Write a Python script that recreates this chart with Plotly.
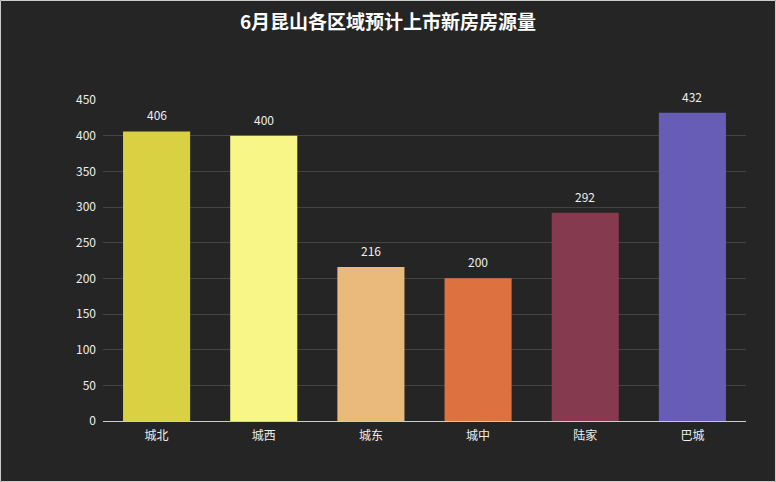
import plotly.graph_objects as go

categories = ["城北", "城西", "城东", "城中", "陆家", "巴城"]
values = [406, 400, 216, 200, 292, 432]
colors = ["#d9d141", "#f7f687", "#eab97c", "#dd7240", "#863a4f", "#675db7"]
y_ticks = [0, 50, 100, 150, 200, 250, 300, 350, 400, 450]
title_text = "6月昆山各区域预计上市新房房源量"

W, H = 776, 482
ML, MR, MT, MB = 103, 30, 100, 61
FONT = "Noto Sans CJK SC, Microsoft YaHei, sans-serif"

fig = go.Figure(go.Bar(
    x=categories, y=values,
    marker=dict(color=colors, line=dict(width=0)),
    width=0.626,
    hoverinfo="x+y",
))

for c, v in zip(categories, values):
    fig.add_annotation(x=c, y=v, text=str(v), showarrow=False,
                       yanchor="bottom", yshift=6,
                       font=dict(size=12, color="#eeeeee", family=FONT))

pw = W - ML - MR
ph = H - MT - MB
fig.add_shape(type="rect", xref="paper", yref="paper",
              x0=-(ML - 0.5) / pw, x1=1 + (MR - 0.5) / pw,
              y0=-(MB - 0.5) / ph, y1=1 + (MT - 0.5) / ph,
              line=dict(color="#cccccc", width=1), fillcolor="rgba(0,0,0,0)", layer="above")

fig.update_layout(
    width=W, height=H,
    margin=dict(l=ML, r=MR, t=MT, b=MB),
    paper_bgcolor="#252525", plot_bgcolor="#252525",
    title=dict(text="<b>" + title_text + "</b>", x=0.5, xref="container", xanchor="center",
               y=1 - 22 / H, yref="container", yanchor="middle",
               font=dict(size=19, color="#ffffff", family=FONT)),
    font=dict(family=FONT, size=12, color="#eeeeee"),
    showlegend=False,
    xaxis=dict(showgrid=False, showline=True, linecolor="#cccccc", linewidth=1,
               ticks="", tickfont=dict(size=12, color="#eeeeee"), fixedrange=True,
               ticklabelstandoff=4),
    yaxis=dict(range=[0, 450], tickvals=y_ticks, showgrid=True, gridcolor="#444444",
               gridwidth=1, zeroline=False, showline=False, ticks="",
               tickfont=dict(size=12, color="#eeeeee"), ticklabelstandoff=6),
)

fig.write_html("out.html", config={"displayModeBar": False},
               post_script="document.body.style.margin='0';document.body.style.overflow='hidden';document.body.style.background='#252525';")
